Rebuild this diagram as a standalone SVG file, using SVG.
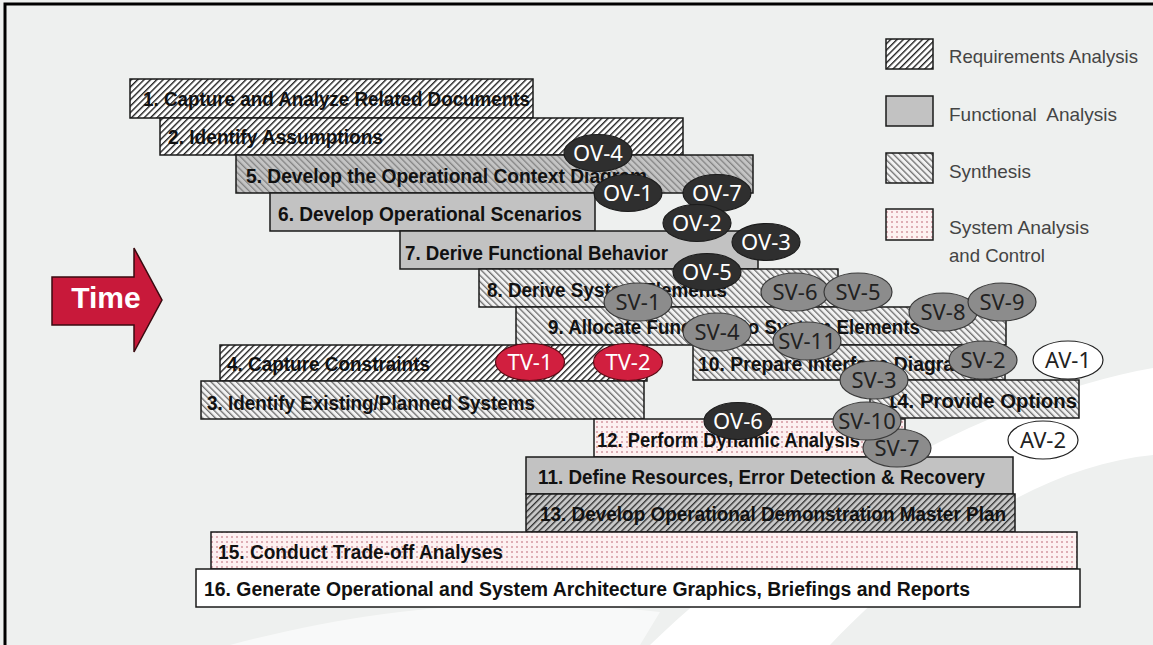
<svg xmlns="http://www.w3.org/2000/svg" width="1153" height="645" viewBox="0 0 1153 645">
<style>
.bar{stroke:#1a1a1a;stroke-width:1.5}
.t{font-family:"Liberation Sans",Arial,sans-serif;font-weight:bold;font-size:20px;fill:#111}
.lg{font-family:"Liberation Sans",Arial,sans-serif;font-size:18.5px;fill:#444}
.e text{font-family:"Noto Sans","Open Sans",sans-serif;font-size:22px;text-anchor:middle}
.ov ellipse{fill:#2f2f2f;stroke:#1c1c1c;stroke-width:1.2}
.ov text{fill:#fff}
.sv ellipse{fill:#8c8c8c;stroke:#3a3a3a;stroke-width:1.2}
.sv text{fill:#222}
.tv ellipse{fill:#d11f3f;stroke:#5a0a14;stroke-width:1.2}
.tv text{fill:#fff}
.av ellipse{fill:#fff;stroke:#222;stroke-width:1.2}
.av text{fill:#222}
</style>
<defs>
<pattern id="req" width="4.5" height="4.5" patternUnits="userSpaceOnUse" patternTransform="rotate(45)">
<rect width="4.5" height="4.5" fill="#fff"/>
<line x1="0.7" y1="0" x2="0.7" y2="4.5" stroke="#111" stroke-width="1.3"/>
</pattern>
<pattern id="reqg" width="4.5" height="4.5" patternUnits="userSpaceOnUse" patternTransform="rotate(45)">
<rect width="4.5" height="4.5" fill="#c8c8c8"/>
<line x1="0.7" y1="0" x2="0.7" y2="4.5" stroke="#111" stroke-width="1.1"/>
</pattern>
<pattern id="syn" width="4.5" height="4.5" patternUnits="userSpaceOnUse" patternTransform="rotate(-45)">
<rect width="4.5" height="4.5" fill="#f2f2f2"/>
<line x1="0.7" y1="0" x2="0.7" y2="4.5" stroke="#555" stroke-width="1.1"/>
</pattern>
<pattern id="syng" width="4.5" height="4.5" patternUnits="userSpaceOnUse" patternTransform="rotate(-45)">
<rect width="4.5" height="4.5" fill="#c4c4c4"/>
<line x1="0.7" y1="0" x2="0.7" y2="4.5" stroke="#707070" stroke-width="1"/>
</pattern>
<pattern id="dot" width="5" height="5" patternUnits="userSpaceOnUse">
<rect width="5" height="5" fill="#fdf1f1"/>
<circle cx="2" cy="2" r="0.8" fill="#b8586a"/>
</pattern>
</defs>
<rect width="1153" height="645" fill="#eef0ef"/>
<path d="M1153,368 C1000,395 800,500 650,645 L830,645 C940,530 1050,465 1153,455 Z" fill="#ffffff"/>
<path d="M230,645 C380,605 520,595 660,612 L640,645 Z" fill="#ffffff" opacity="0.6"/>
<path d="M5,645 L5,4 L1153,4" fill="none" stroke="#000" stroke-width="3"/>

<g id="legend">
<rect x="886" y="39" width="47" height="30" fill="url(#req)" class="bar"/>
<text class="lg" x="949" y="63" textLength="189" lengthAdjust="spacingAndGlyphs">Requirements Analysis</text>
<rect x="886" y="96" width="47" height="30" fill="#c2c2c2" class="bar"/>
<text class="lg" x="949" y="121" xml:space="preserve" textLength="168" lengthAdjust="spacingAndGlyphs">Functional  Analysis</text>
<rect x="886" y="153" width="47" height="30" fill="url(#syn)" class="bar"/>
<text class="lg" x="949" y="178" textLength="82" lengthAdjust="spacingAndGlyphs">Synthesis</text>
<rect x="886" y="209" width="47" height="31" fill="url(#dot)" class="bar"/>
<text class="lg" x="949" y="234" textLength="140" lengthAdjust="spacingAndGlyphs">System Analysis</text>
<text class="lg" x="949" y="262" textLength="96" lengthAdjust="spacingAndGlyphs">and Control</text>
</g>

<g id="time">
<polygon points="52,277 134,277 134,248 162,300 134,352 134,325 52,325" fill="#c8193a" stroke="#3a0a10" stroke-width="1.5"/>
<text x="106" y="308" text-anchor="middle" font-family="Liberation Sans,Arial,sans-serif" font-weight="bold" font-size="30" fill="#fff">Time</text>
</g>

<g id="step1"><rect class="bar" x="130" y="79" width="403" height="39" fill="url(#req)"/><text class="t" x="143" y="106" textLength="387" lengthAdjust="spacingAndGlyphs">1. Capture and Analyze Related Documents</text></g>
<g id="step2"><rect class="bar" x="160" y="118" width="523" height="37" fill="url(#req)"/><text class="t" x="168" y="144" textLength="215" lengthAdjust="spacingAndGlyphs">2. Identify Assumptions</text></g>
<g id="step5"><rect class="bar" x="236" y="155" width="517" height="38" fill="url(#syng)"/><text class="t" x="246" y="183" textLength="401" lengthAdjust="spacingAndGlyphs">5. Develop the Operational Context Diagram</text></g>
<g id="step6"><rect class="bar" x="270" y="193" width="325" height="38" fill="#c2c2c2"/><text class="t" x="278" y="221" textLength="304" lengthAdjust="spacingAndGlyphs">6. Develop Operational Scenarios</text></g>
<g id="step7"><rect class="bar" x="400" y="231" width="358" height="38" fill="#c2c2c2"/><text class="t" x="405" y="260" textLength="263" lengthAdjust="spacingAndGlyphs">7. Derive Functional Behavior</text></g>
<g id="step8"><rect class="bar" x="479" y="269" width="359" height="38" fill="url(#syn)"/><text class="t" x="487" y="297" textLength="240" lengthAdjust="spacingAndGlyphs">8. Derive System Elements</text></g>
<g id="step9"><rect class="bar" x="516" y="307" width="490" height="38" fill="url(#syn)"/><text class="t" x="548" y="334" textLength="372" lengthAdjust="spacingAndGlyphs">9. Allocate Functions to System Elements</text></g>
<g id="step10"><rect class="bar" x="693" y="345" width="312" height="35" fill="url(#syn)"/><text class="t" x="698" y="371" textLength="284" lengthAdjust="spacingAndGlyphs">10. Prepare Interface Diagrams</text></g>
<g id="step4"><rect class="bar" x="220" y="345" width="427" height="36" fill="url(#req)"/><text class="t" x="227" y="371" textLength="203" lengthAdjust="spacingAndGlyphs">4. Capture Constraints</text></g>
<g id="step3"><rect class="bar" x="201" y="381" width="443" height="38" fill="url(#syn)"/><text class="t" x="207" y="410" textLength="328" lengthAdjust="spacingAndGlyphs">3. Identify Existing/Planned Systems</text></g>
<g id="step14"><rect class="bar" x="870" y="380" width="209" height="38" fill="url(#syn)"/><text class="t" x="886" y="408" textLength="191" lengthAdjust="spacingAndGlyphs">14. Provide Options</text></g>
<g id="step12"><rect class="bar" x="594" y="419" width="311" height="38" fill="url(#dot)"/><text class="t" x="597" y="447" textLength="263" lengthAdjust="spacingAndGlyphs">12. Perform Dynamic Analysis</text></g>
<g id="step11"><rect class="bar" x="526" y="457" width="487" height="37" fill="#c2c2c2"/><text class="t" x="538" y="484" textLength="447" lengthAdjust="spacingAndGlyphs">11. Define Resources, Error Detection &amp; Recovery</text></g>
<g id="step13"><rect class="bar" x="526" y="494" width="489" height="38" fill="url(#reqg)"/><text class="t" x="540" y="521" textLength="466" lengthAdjust="spacingAndGlyphs">13. Develop Operational Demonstration Master Plan</text></g>
<g id="step15"><rect class="bar" x="211" y="532" width="866" height="37" fill="url(#dot)"/><text class="t" x="218" y="559" textLength="285" lengthAdjust="spacingAndGlyphs">15. Conduct Trade-off Analyses</text></g>
<g id="step16"><rect class="bar" x="196" y="569" width="884" height="38" fill="#fff"/><text class="t" x="204" y="596" textLength="766" lengthAdjust="spacingAndGlyphs">16. Generate Operational and System Architecture Graphics, Briefings and Reports</text></g>

<g id="OV-4" class="e ov"><ellipse cx="598" cy="153" rx="34" ry="18.5"/><text x="598" y="161">OV-4</text></g>
<g id="OV-1" class="e ov"><ellipse cx="628" cy="193" rx="34" ry="18.5"/><text x="628" y="201">OV-1</text></g>
<g id="OV-7" class="e ov"><ellipse cx="717" cy="193" rx="34" ry="18.5"/><text x="717" y="201">OV-7</text></g>
<g id="OV-2" class="e ov"><ellipse cx="697" cy="223" rx="34" ry="18.5"/><text x="697" y="231">OV-2</text></g>
<g id="OV-3" class="e ov"><ellipse cx="766" cy="242" rx="34" ry="18.5"/><text x="766" y="250">OV-3</text></g>
<g id="OV-5" class="e ov"><ellipse cx="707" cy="272" rx="34" ry="18.5"/><text x="707" y="280">OV-5</text></g>
<g id="SV-1" class="e sv"><ellipse cx="638" cy="302" rx="34" ry="19"/><text x="638" y="310">SV-1</text></g>
<g id="SV-6" class="e sv"><ellipse cx="795" cy="292" rx="34" ry="19"/><text x="795" y="300">SV-6</text></g>
<g id="SV-5" class="e sv"><ellipse cx="858" cy="292" rx="34" ry="19"/><text x="858" y="300">SV-5</text></g>
<g id="SV-8" class="e sv"><ellipse cx="943" cy="312" rx="34" ry="19"/><text x="943" y="320">SV-8</text></g>
<g id="SV-9" class="e sv"><ellipse cx="1002" cy="302" rx="34" ry="19"/><text x="1002" y="310">SV-9</text></g>
<g id="SV-4" class="e sv"><ellipse cx="717" cy="332" rx="34" ry="19"/><text x="717" y="340">SV-4</text></g>
<g id="SV-11" class="e sv"><ellipse cx="807" cy="341" rx="34" ry="19"/><text x="807" y="349">SV-11</text></g>
<g id="SV-2" class="e sv"><ellipse cx="983" cy="360" rx="34" ry="19"/><text x="983" y="368">SV-2</text></g>
<g id="AV-1" class="e av"><ellipse cx="1068" cy="360" rx="35" ry="19"/><text x="1068" y="368">AV-1</text></g>
<g id="TV-1" class="e tv"><ellipse cx="530" cy="362" rx="34.5" ry="18.5"/><text x="530" y="370">TV-1</text></g>
<g id="TV-2" class="e tv"><ellipse cx="628" cy="362" rx="34.5" ry="18.5"/><text x="628" y="370">TV-2</text></g>
<g id="SV-3" class="e sv"><ellipse cx="874" cy="380" rx="34" ry="19"/><text x="874" y="388">SV-3</text></g>
<g id="OV-6" class="e ov"><ellipse cx="738" cy="421" rx="34" ry="18.5"/><text x="738" y="429">OV-6</text></g>
<g id="SV-7" class="e sv"><ellipse cx="897" cy="448" rx="34" ry="19"/><text x="897" y="456">SV-7</text></g>
<g id="SV-10" class="e sv"><ellipse cx="867" cy="421" rx="34" ry="19"/><text x="867" y="429">SV-10</text></g>
<g id="AV-2" class="e av"><ellipse cx="1043" cy="440" rx="35" ry="19"/><text x="1043" y="448">AV-2</text></g>
</svg>
